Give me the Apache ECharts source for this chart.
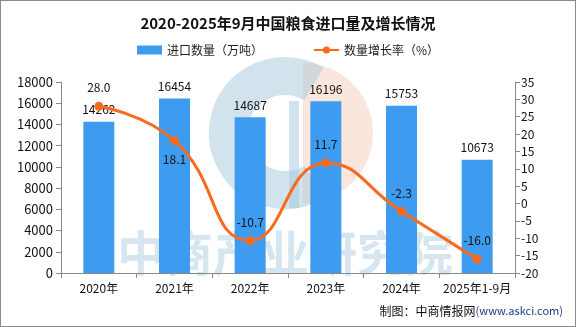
<!DOCTYPE html>
<html><head><meta charset="utf-8">
<script src="https://cdn.jsdelivr.net/npm/echarts@6/dist/echarts.min.js"></script>
<style>html,body{margin:0;padding:0;background:#fff}#c{width:574px;height:325px;border:1px solid #8c8c8c}</style>
</head><body><div id="c"></div>
<script>
var categories=['2020年','2021年','2022年','2023年','2024年','2025年1-9月'];
var importVolume=[14262,16454,14687,16196,15753,10673];
var growthRate=[28.0,18.1,-10.7,11.7,-2.3,-16.0];
var lineLabelPos=['top','bottom','top','top','top','top'];
var chart=echarts.init(document.getElementById('c'));
var ff='"Noto Sans CJK SC", sans-serif';
chart.setOption({
  animation:false,
  textStyle:{fontFamily:ff},
  title:{text:'2020-2025年9月中国粮食进口量及增长情况',left:'center',top:10,textStyle:{fontSize:15,fontWeight:'bold',color:'#111',fontFamily:ff}},
  legend:{top:38,left:'center',itemWidth:25,itemHeight:9,itemGap:50,textStyle:{fontSize:12,color:'#222'},
    data:[{name:'进口数量（万吨）',icon:'rect'},{name:'数量增长率（%）'}]},
  grid:{left:60,right:60,top:81,bottom:53},
  graphic:[
    {type:'arc',shape:{cx:284,cy:132,r:57,startAngle:Math.PI*0.33,endAngle:Math.PI*1.67},style:{stroke:'rgba(165,200,222,0.5)',lineWidth:38,fill:null},z:-1},
    {type:'rect',shape:{x:288,y:100,width:10,height:107},style:{fill:'rgba(165,200,222,0.5)'},z:-1},
    {type:'sector',shape:{cx:302,cy:132,r:70,r0:0,startAngle:-Math.PI/2,endAngle:Math.PI/2},style:{fill:'rgba(247,200,180,0.45)'},z:-2},
    {type:'text',left:116,top:228,style:{text:'中商产业研究院',fontSize:48,fontWeight:'bold',fill:'rgba(165,200,222,0.45)',fontFamily:ff},z:-1},
    {type:'text',right:12,top:304,style:{rich:{a:{fontSize:12,fill:'#111',fontFamily:ff},b:{fontSize:11,fill:'#1a3a8a',fontFamily:ff}},text:'{a|制图：中商情报网}{b|(www.askci.com)}'}}
  ],
  xAxis:{type:'category',data:categories,boundaryGap:true,
    axisLine:{lineStyle:{color:'#888'}},axisTick:{show:true,length:5,lineStyle:{color:'#888'}},
    axisLabel:{color:'#111',fontSize:12,margin:9,interval:0}},
  yAxis:[
    {type:'value',min:0,max:18000,interval:2000,splitLine:{show:false},
      axisLine:{show:true,lineStyle:{color:'#888'}},axisTick:{show:true,length:5,lineStyle:{color:'#888'}},
      axisLabel:{color:'#111',fontSize:13,margin:8,formatter:function(v){return String(v);}}},
    {type:'value',min:-20,max:35,interval:5,splitLine:{show:false},
      axisLine:{show:true,lineStyle:{color:'#888'}},axisTick:{show:true,length:5,lineStyle:{color:'#888'}},
      axisLabel:{color:'#111',fontSize:12,margin:6}}
  ],
  series:[
    {name:'进口数量（万吨）',type:'bar',data:importVolume,barWidth:31,itemStyle:{color:'#3e9cf0'},
      label:{show:true,position:'top',color:'#111',fontSize:12,distance:6}},
    {name:'数量增长率（%）',type:'line',yAxisIndex:1,smooth:true,data:growthRate.map(function(v,i){return {value:v,label:{position:lineLabelPos[i]}};}),
      symbol:'circle',symbolSize:9,lineStyle:{color:'#f86a1e',width:3},itemStyle:{color:'#f86a1e'},
      label:{show:true,color:'#111',fontSize:12,distance:8,formatter:function(p){return p.value.toFixed(1);}}}
  ]
});
</script></body></html>
